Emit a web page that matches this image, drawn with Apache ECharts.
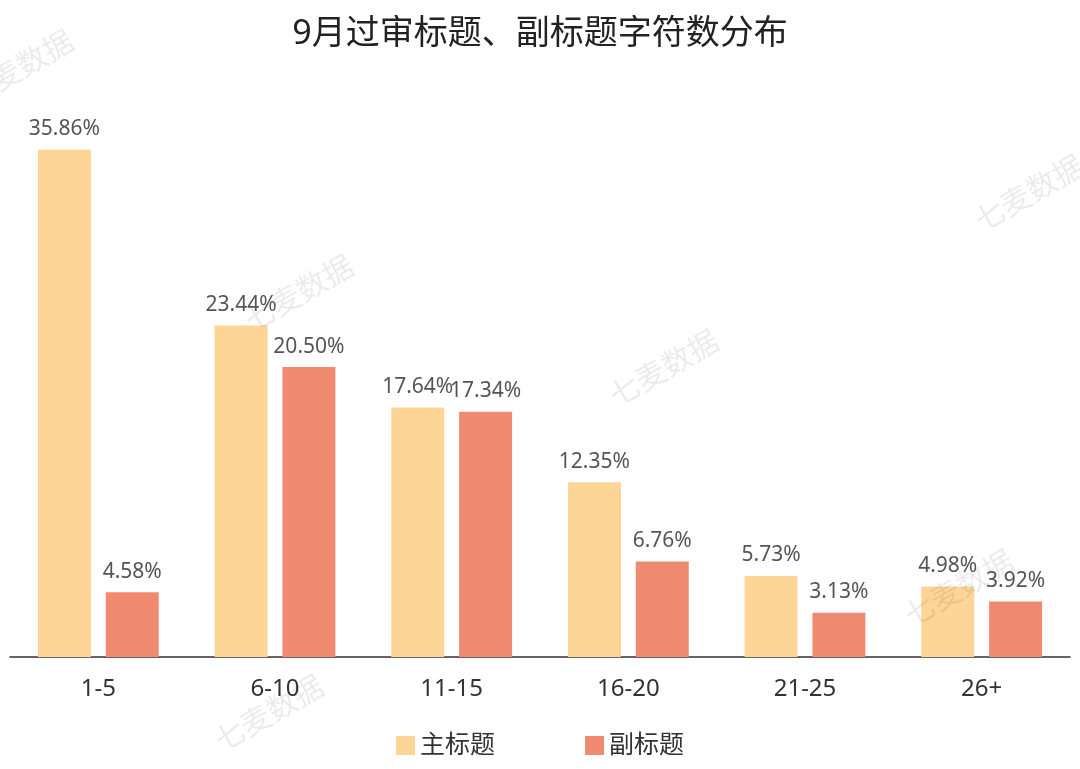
<!DOCTYPE html><html><head><meta charset="utf-8"><script src="https://cdn.jsdelivr.net/npm/echarts@6/dist/echarts.min.js"></script></head><body style="margin:0"><div id="c" style="width:1080px;height:769px"></div><script>
const categories=['1-5','6-10','11-15','16-20','21-25','26+'];
const mainTitle=[35.86,23.44,17.64,12.35,5.73,4.98];
const subTitle=[4.58,20.50,17.34,6.76,3.13,3.92];
const f='"Noto Sans","Noto Sans CJK SC",sans-serif';
const wm=[[20,70],[300,295],[665,370],[1030,195],[270,715],[960,590]].map(p=>({type:'text',x:p[0],y:p[1],rotation:Math.PI/6,style:{text:'七麦数据',font:'30px '+f,fill:'rgba(0,0,0,0.08)',align:'center',verticalAlign:'middle'},z:10}));
const ch=echarts.init(document.getElementById('c'));
ch.setOption({
title:{text:'9月过审标题、副标题字符数分布',left:'center',top:12,textStyle:{fontFamily:f,fontSize:34,fontWeight:'normal',color:'#222'}},
legend:{bottom:6,itemWidth:19,itemHeight:19,itemGap:90,textStyle:{fontFamily:f,fontSize:25,color:'#333'},icon:'rect'},
grid:{left:10,right:10,top:80,bottom:112},
xAxis:{type:'category',data:categories,axisTick:{show:false},axisLine:{lineStyle:{color:'#333',width:1.5}},axisLabel:{fontFamily:f,fontSize:24,color:'#333',margin:20}},
yAxis:{type:'value',min:0,max:40.8,show:false},
series:[{name:'主标题',type:'bar',data:mainTitle,barWidth:53,barGap:'28%',itemStyle:{color:'#FDD597'},label:{show:true,position:'top',formatter:p=>p.value.toFixed(2)+'%',fontFamily:f,fontSize:21,color:'#555',distance:10}},
{name:'副标题',type:'bar',data:subTitle,barWidth:53,itemStyle:{color:'#F08B72'},label:{show:true,position:'top',formatter:p=>p.value.toFixed(2)+'%',fontFamily:f,fontSize:21,color:'#555',distance:10}}],
graphic:wm});
</script></body></html>
